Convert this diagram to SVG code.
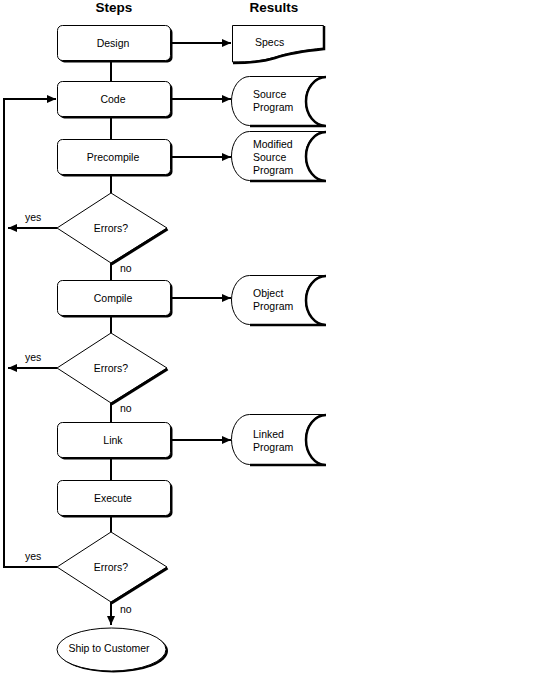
<svg xmlns="http://www.w3.org/2000/svg" width="536" height="676" viewBox="0 0 536 676">
<style>
text{font-family:"Liberation Sans",Arial,sans-serif;font-size:10.5px;fill:#000}
.t{font-size:13.5px;font-weight:bold;text-anchor:middle}
.c{text-anchor:middle}
.box{fill:#fff;stroke:#000;stroke-width:1}
.sh{fill:#000;stroke:none}
.ln{fill:none;stroke:#000;stroke-width:2}
.thick{fill:none;stroke:#000;stroke-width:2.5}
</style>
<defs>
<marker id="ah" markerUnits="userSpaceOnUse" markerWidth="10" markerHeight="9" refX="9" refY="4" orient="auto">
<path d="M0,0 L9,4 L0,8 Z" fill="#000"/>
</marker>
</defs>
<rect width="536" height="676" fill="#fff"/>
<text class="t" x="114" y="12">Steps</text>
<text class="t" x="274" y="12">Results</text>

<g id="connectors">
<line class="ln" x1="111" y1="62" x2="111" y2="82"/>
<line class="ln" x1="111" y1="118" x2="111" y2="140"/>
<line class="ln" x1="111" y1="176" x2="111" y2="193"/>
<line class="ln" x1="111" y1="263" x2="111" y2="281"/>
<line class="ln" x1="111" y1="317" x2="111" y2="333"/>
<line class="ln" x1="111" y1="403" x2="111" y2="423"/>
<line class="ln" x1="111" y1="459" x2="111" y2="481"/>
<line class="ln" x1="111" y1="517" x2="111" y2="532"/>
<line class="ln" x1="111" y1="602" x2="111" y2="625" marker-end="url(#ah)"/>
<line class="ln" x1="172" y1="43" x2="231" y2="43" marker-end="url(#ah)"/>
<line class="ln" x1="172" y1="99" x2="231" y2="99" marker-end="url(#ah)"/>
<line class="ln" x1="172" y1="157" x2="231" y2="157" marker-end="url(#ah)"/>
<line class="ln" x1="172" y1="298" x2="231" y2="298" marker-end="url(#ah)"/>
<line class="ln" x1="172" y1="440" x2="231" y2="440" marker-end="url(#ah)"/>
<line class="ln" x1="57" y1="228" x2="8" y2="228" marker-end="url(#ah)"/>
<line class="ln" x1="57" y1="368" x2="8" y2="368" marker-end="url(#ah)"/>
<polyline class="ln" points="57,567 4,567 4,99 56,99" marker-end="url(#ah)"/>
<text x="25" y="221">yes</text>
<text x="25" y="361">yes</text>
<text x="25" y="560">yes</text>
<text x="120" y="272">no</text>
<text x="120" y="412">no</text>
<text x="120" y="613">no</text>
</g>

<g id="design">
<rect class="sh" x="59.5" y="27.5" width="113" height="35" rx="5"/>
<rect class="box" x="57.5" y="25.5" width="113" height="35" rx="5"/>
<text class="c" x="113" y="47">Design</text>
</g>
<g id="code">
<rect class="sh" x="59.5" y="83.5" width="113" height="35" rx="5"/>
<rect class="box" x="57.5" y="81.5" width="113" height="35" rx="5"/>
<text class="c" x="113" y="103">Code</text>
</g>
<g id="precompile">
<rect class="sh" x="59.5" y="141.5" width="113" height="35" rx="5"/>
<rect class="box" x="57.5" y="139.5" width="113" height="35" rx="5"/>
<text class="c" x="113" y="161">Precompile</text>
</g>
<g id="errors1">
<polygon class="box" points="111,193 167,228 111,263 57,228"/>
<line x1="167.5" y1="229" x2="111.5" y2="264" stroke="#000" stroke-width="3"/>
<text class="c" x="111" y="232">Errors?</text>
</g>
<g id="compile">
<rect class="sh" x="59.5" y="282.5" width="113" height="35" rx="5"/>
<rect class="box" x="57.5" y="280.5" width="113" height="35" rx="5"/>
<text class="c" x="113" y="302">Compile</text>
</g>
<g id="errors2">
<polygon class="box" points="111,333 167,368 111,403 57,368"/>
<line x1="167.5" y1="369" x2="111.5" y2="404" stroke="#000" stroke-width="3"/>
<text class="c" x="111" y="372">Errors?</text>
</g>
<g id="link">
<rect class="sh" x="59.5" y="424.5" width="113" height="35" rx="5"/>
<rect class="box" x="57.5" y="422.5" width="113" height="35" rx="5"/>
<text class="c" x="113" y="444">Link</text>
</g>
<g id="execute">
<rect class="sh" x="59.5" y="482.5" width="113" height="35" rx="5"/>
<rect class="box" x="57.5" y="480.5" width="113" height="35" rx="5"/>
<text class="c" x="113" y="502">Execute</text>
</g>
<g id="errors3">
<polygon class="box" points="111,532 167,567 111,602 57,567"/>
<line x1="167.5" y1="568" x2="111.5" y2="603" stroke="#000" stroke-width="3"/>
<text class="c" x="111" y="571">Errors?</text>
</g>
<g id="ship">
<ellipse class="sh" cx="113.5" cy="651" rx="54.5" ry="21.5"/>
<ellipse class="box" cx="111.5" cy="649.5" rx="54.5" ry="21.5"/>
<text class="c" x="109" y="652">Ship to Customer</text>
</g>

<g id="specs">
<path class="box" d="M232.5,25.5 L323.5,25.5 L323.5,48 C305,50 290,52 275,57 C262,61 250,62 232.5,62 Z"/>
<path class="thick" d="M324,26 L324,49 C305,51 290,53 275,58 C262,62 250,63 233,63"/>
<text x="255" y="46">Specs</text>
</g>
<g id="source">
<path class="box" d="M249.5,76.5 L325.5,76.5 A20,24.5 0 0 0 325.5,125.5 L249.5,125.5 A18,24.5 0 0 1 249.5,76.5 Z"/>
<path class="thick" d="M326,77 A20,24.5 0 0 0 326,126 L250,126"/>
<text x="253" y="98">Source</text>
<text x="253" y="111">Program</text>
</g>
<g id="modsource">
<path class="box" d="M249.5,131.5 L325.5,131.5 A20,24.5 0 0 0 325.5,180.5 L249.5,180.5 A18,24.5 0 0 1 249.5,131.5 Z"/>
<path class="thick" d="M326,132 A20,24.5 0 0 0 326,181 L250,181"/>
<text x="253" y="148">Modified</text>
<text x="253" y="161">Source</text>
<text x="253" y="174">Program</text>
</g>
<g id="object">
<path class="box" d="M249.5,275.5 L325.5,275.5 A20,24.5 0 0 0 325.5,324.5 L249.5,324.5 A18,24.5 0 0 1 249.5,275.5 Z"/>
<path class="thick" d="M326,276 A20,24.5 0 0 0 326,325 L250,325"/>
<text x="253" y="297">Object</text>
<text x="253" y="310">Program</text>
</g>
<g id="linked">
<path class="box" d="M249.5,414.5 L325.5,414.5 A20,25 0 0 0 325.5,464.5 L249.5,464.5 A18,25 0 0 1 249.5,414.5 Z"/>
<path class="thick" d="M326,415 A20,25 0 0 0 326,465 L250,465"/>
<text x="253" y="438">Linked</text>
<text x="253" y="451">Program</text>
</g>
</svg>
